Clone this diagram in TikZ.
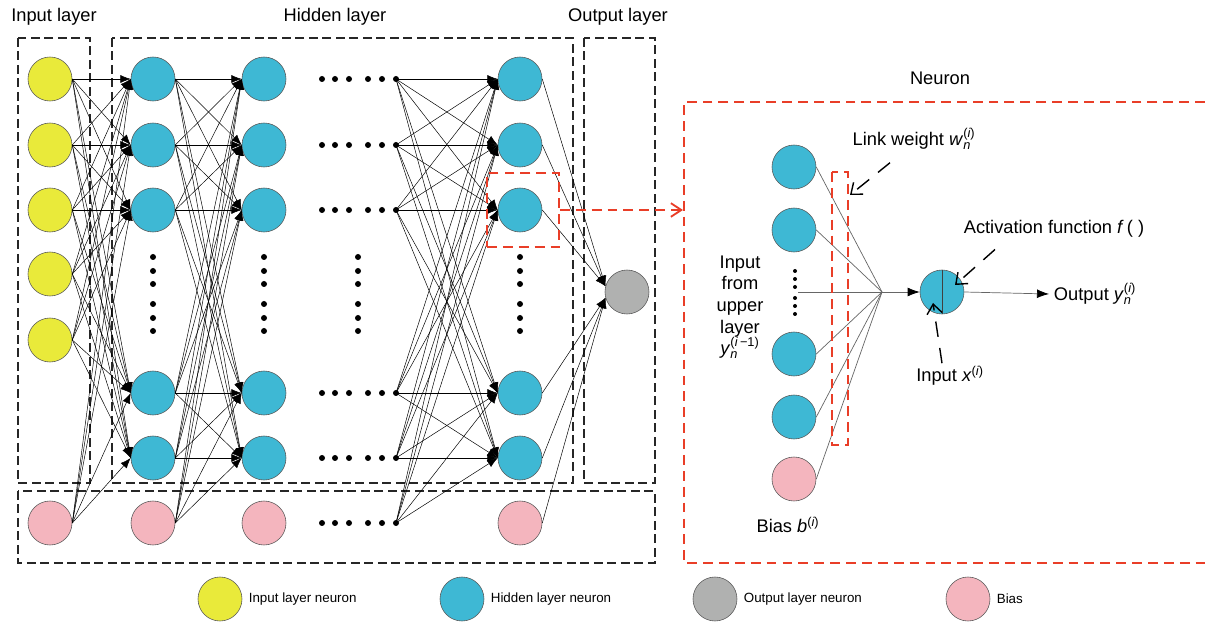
\documentclass[tikz,border=0pt]{standalone}
\usepackage{amsmath}
\usepackage{fontspec}
\setmainfont{Liberation Sans}
\usetikzlibrary{arrows.meta, positioning}

\definecolor{inyellow}{RGB}{233,234,58}
\definecolor{hidblue}{RGB}{62,184,212}
\definecolor{outgray}{RGB}{176,177,176}
\definecolor{biaspink}{RGB}{244,181,190}
\definecolor{zoomred}{RGB}{233,62,40}
\newcommand{\layvar}[3]{\textit{#1}$_{\textit{#2}}^{\textup{(}\textit{#3}\textup{)}}$}

\begin{document}
\begin{tikzpicture}[x=0.025cm, y=-0.025cm, font=\fontsize{13}{15.4}\selectfont,
  neuron/.style={circle, draw=black!65, line width=0.4pt, minimum size=1.1cm, inner sep=0pt},
  dotsrc/.style={circle, fill=black, minimum size=0.15cm, inner sep=0pt},
  link/.style={line width=0.35pt, -{Latex[length=2.6mm, width=2mm]}},
  greylink/.style={draw=black!60, line width=0.5pt},
  boxline/.style={draw=black!85, line width=1.3pt, dash pattern=on 6.4pt off 3.2pt},
  redline/.style={draw=zoomred, line width=1.3pt, dash pattern=on 7pt off 4.3pt},
  pointer/.style={line width=1pt, dash pattern=on 11pt off 8pt, -{Straight Barb[length=2.4mm, width=3.8mm]}}]
\useasboundingbox (0,0) rectangle (1205,622);

\node (tin) at (54,17) {Input layer};
\node (thid) at (335,17) {Hidden layer};
\node (tout) at (618,17) {Output layer};
\node (tnrn) at (940,78) {Neuron};

\draw[boxline] (18,38) rectangle (90,483);
\draw[boxline] (112,38) rectangle (573,483);
\draw[boxline] (584,38) rectangle (655,483);
\draw[boxline] (18,491) rectangle (655,563);

\foreach \y [count=\i] in {79,145,210,274,340}
  \node[neuron, fill=inyellow] (in\i) at (50,\y) {};
\foreach \y [count=\i] in {79,145,210,393,458} {
  \node[neuron, fill=hidblue] (ha\i) at (153,\y) {};
  \node[neuron, fill=hidblue] (hb\i) at (264,\y) {};
  \node[neuron, fill=hidblue] (hc\i) at (520,\y) {};
}
\foreach \x [count=\i from 0] in {50,153,264,520}
  \node[neuron, fill=biaspink] (b\i) at (\x,523) {};
\node[neuron, fill=outgray] (out) at (627,292) {};

\foreach \y [count=\i] in {79,145,210,393,458,523} {
  \fill foreach \x in {322,335,349,368,382} {(\x,\y) circle [radius=3]};
  \node[dotsrc] (dc\i) at (396,\y) {};
}
\fill foreach \x in {153,264,358,520} {foreach \y in {257,271,284,304,318,331} {(\x,\y) circle [radius=3]}};

\foreach \j in {1,...,5} {
  \foreach \i in {1,...,5} {
    \draw[link] (in\i.east) -- (ha\j.west);
    \draw[link] (ha\i.east) -- (hb\j.west);
  }
  \draw[link] (b0.east) -- (ha\j.west);
  \draw[link] (b1.east) -- (hb\j.west);
  \foreach \i in {1,...,6}
    \draw[link] (dc\i.center) -- (hc\j.west);
}
\foreach \i in {1,2,3} \draw[link] (hc\i.east) -- (out.165);
\foreach \i in {4,5} \draw[link] (hc\i.east) -- (out.195);
\draw[link] (b3.east) -- (out.195);

\node[redline, draw, minimum width=1.8cm, minimum height=1.85cm] (zoombox) at (523,210) {};
\coordinate (nrn) at (683,210);
\draw[redline, -{Straight Barb[length=2.6mm, width=3.4mm]}] (zoombox.east) -- (nrn);
\draw[redline] (1205,102) -- (684,102) -- (684,563) -- (1205,563);

\foreach \y [count=\i] in {167,230,354,417}
  \node[neuron, fill=hidblue] (p\i) at (794,\y) {};
\node[neuron, fill=biaspink] (pb) at (794,479) {};
\fill foreach \y in {271,279,287,298,306,314} {(795,\y) circle [radius=2]};
\coordinate (mid) at (798,292);
\coordinate (sum) at (882,292);
\draw[greylink] (mid) -- (sum);
\foreach \n in {p1,p2,p3,p4,pb} \draw[greylink] (\n.east) -- (sum);
\draw[redline] (832,172) rectangle (848,445);
\node[neuron, fill=hidblue] (act) at (942,292) {};
\draw[black!75, line width=0.5pt] (act.north) -- (act.south);
\draw[greylink, -{Latex[black, length=3mm, width=2.2mm]}] (sum) -- (act.west);
\node[anchor=west] (yout) at (1049,294) {Output \layvar{y}{n}{i}};
\draw[greylink, -{Latex[black, length=3mm, width=2.2mm]}] (act.east) -- (yout.west);

\node[align=center] (upl) at (740,307) {Input\\from\\upper\\layer\\\layvar{y}{n}{i\textup{\,−1}}};
\node (bl) at (788,527) {Bias \layvar{b}{}{i}};
\node (lw) at (914,139) {Link weight \layvar{w}{n}{i}};
\draw[pointer] ([shift={(-24,8)}]lw.south) -- (850,195);
\node (af) at (1054,229) {Activation function \textit{f}\,( )};
\draw[pointer] ([shift={(-59,7)}]af.south) -- (955,285);
\node (ix) at (950,376) {Input \layvar{x}{}{i}};
\draw[pointer] ([shift={(-8,2)}]ix.north) -- (933,303);

\foreach \x/\c/\t [count=\k] in {220/inyellow/Input layer neuron, 462/hidblue/Hidden layer neuron, 715/outgray/Output layer neuron, 968/biaspink/Bias} {
  \node[neuron, fill=\c] (key\k) at (\x,599) {};
  \node[right=0.4mm of key\k, font=\fontsize{9.5}{11}\selectfont] (keyt\k) {\t};
}
\end{tikzpicture}
\end{document}
